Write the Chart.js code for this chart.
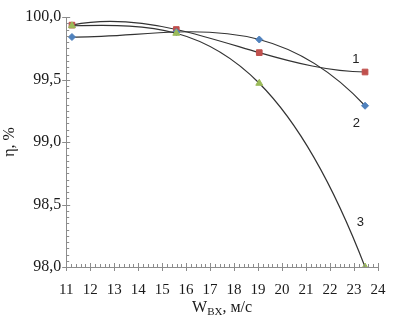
<!DOCTYPE html>
<html>
<head>
<meta charset="utf-8">
<script src="https://cdn.jsdelivr.net/npm/chart.js@4"></script>
<style>
  html, body { margin: 0; padding: 0; background: #fff; }
  #wrap { width: 401px; height: 320px; }
</style>
</head>
<body>
<div id="wrap"><canvas id="chart"></canvas></div>
<script>
"use strict";

// values
const speeds = [11.24, 15.59, 19.05, 23.46];
const eff1 = [99.935, 99.90, 99.715, 99.56];
const eff2 = [99.84, 99.88, 99.82, 99.29];
const eff3 = [99.93, 99.87, 99.47, 98.0];

const curveNames = ['1', '2', '3'];
const nameX = [23.08, 23.1, 23.26];
const nameY = [99.66, 99.15, 98.36];

const yTicks = [98.0, 98.5, 99.0, 99.5, 100.0];

const serif = "'Liberation Serif', 'DejaVu Serif', serif";
const axisColor = '#8c8c8c';

const toPoints = (ys) => speeds.map((x, i) => ({ x: x, y: ys[i] }));

// least squares polynomial (the original curves are 3rd order trendlines)
const polyFit = (xs, ys, deg) => {
    const n = deg + 1;
    const a = [];
    for (let r = 0; r < n; r++) {
        a.push([]);
        for (let c = 0; c < n; c++) a[r].push(xs.reduce((s, x) => s + Math.pow(x, r + c), 0));
        a[r].push(xs.reduce((s, x, i) => s + ys[i] * Math.pow(x, r), 0));
    }
    for (let i = 0; i < n; i++) {
        let p = i;
        for (let r = i + 1; r < n; r++) if (Math.abs(a[r][i]) > Math.abs(a[p][i])) p = r;
        [a[i], a[p]] = [a[p], a[i]];
        for (let r = 0; r < n; r++) {
            if (r === i) continue;
            const f = a[r][i] / a[i][i];
            for (let c = i; c <= n; c++) a[r][c] -= f * a[i][c];
        }
    }
    return a.map((row, i) => row[n] / row[i]);
};
const slopeAt = (coef, x) => coef.reduce((s, c, k) => k ? s + k * c * Math.pow(x, k - 1) : s, 0);

// put the bezier handles where the cubic trendline wants them
const trendCurves = {
    id: 'trendCurves',
    beforeDatasetsDraw(chart) {
        const xs = chart.scales.x, ys = chart.scales.y;
        chart.data.datasets.forEach((ds, di) => {
            const meta = chart.getDatasetMeta(di);
            const line = meta.dataset;
            line.updateControlPoints(chart.chartArea, 'x');
            const vx = ds.data.map(p => p.x), vy = ds.data.map(p => p.y);
            const coef = polyFit(vx, vy, 3);
            meta.data.forEach((pt, i) => {
                const m = slopeAt(coef, vx[i]);
                const hp = i > 0 ? (vx[i] - vx[i - 1]) / 3 : 0;
                const hn = i < vx.length - 1 ? (vx[i + 1] - vx[i]) / 3 : 0;
                pt.cp1x = xs.getPixelForValue(vx[i] - hp);
                pt.cp1y = ys.getPixelForValue(vy[i] - m * hp);
                pt.cp2x = xs.getPixelForValue(vx[i] + hn);
                pt.cp2y = ys.getPixelForValue(vy[i] + m * hn);
            });
        });
    }
};

// axis ticks: major ones cross the axis, minor ones point inside
const axisTicks = {
    id: 'axisTicks',
    afterDraw(chart) {
        const ctx = chart.ctx;
        const xs = chart.scales.x, ys = chart.scales.y;
        const x0 = xs.left, y0 = ys.bottom;
        ctx.save();
        ctx.strokeStyle = axisColor;
        ctx.lineWidth = 1;
        ctx.beginPath();
        for (let v = 11; v <= 24.001; v += 0.2) {
            const px = Math.round(xs.getPixelForValue(v)) + 0.5;
            const major = Math.abs(v - Math.round(v)) < 0.01;
            ctx.moveTo(px, y0 + (major ? 4 : 0));
            ctx.lineTo(px, y0 - (major ? 4 : 3));
        }
        for (let v = 98; v <= 100.001; v += 0.05) {
            const py = Math.round(ys.getPixelForValue(v)) + 0.5;
            const major = Math.abs(v * 2 - Math.round(v * 2)) < 0.01;
            ctx.moveTo(x0 - (major ? 4 : 0), py);
            ctx.lineTo(x0 + (major ? 4 : 3), py);
        }
        ctx.stroke();

        // curve numbers
        ctx.fillStyle = '#222';
        ctx.font = "13px 'Liberation Sans', sans-serif";
        ctx.textAlign = 'center';
        ctx.textBaseline = 'middle';
        curveNames.forEach((t, i) => {
            ctx.fillText(t, xs.getPixelForValue(nameX[i]), ys.getPixelForValue(nameY[i]));
        });

        // x axis title with subscript
        const cx = (chart.chartArea.left + chart.chartArea.right) / 2;
        const base = 312;
        const parts = [
            { t: 'W', f: '16px ' + serif, dy: 0 },
            { t: 'BX', f: '11px ' + serif, dy: 3 },
            { t: ', м/с', f: '16px ' + serif, dy: 0 }
        ];
        let total = 0;
        parts.forEach(p => { ctx.font = p.f; p.w = ctx.measureText(p.t).width; total += p.w; });
        let px = cx - total / 2;
        ctx.textAlign = 'left';
        ctx.textBaseline = 'alphabetic';
        ctx.fillStyle = '#1a1a1a';
        parts.forEach(p => {
            ctx.font = p.f;
            ctx.fillText(p.t, px, base + p.dy);
            px += p.w;
        });
        ctx.restore();
    }
};

const makeSet = (label, data, style, color, radius) => ({
    label: label,
    data: toPoints(data),
    borderColor: '#333',
    borderWidth: 1.2,
    tension: 0.4,
    capBezierPoints: false,
    pointStyle: style,
    pointRadius: radius,
    pointBackgroundColor: color,
    pointBorderColor: color,
    pointBorderWidth: 1,
    fill: false
});

document.addEventListener("DOMContentLoaded", () => {
    const ctx = document.getElementById('chart').getContext('2d');
    new Chart(ctx, {
        type: 'line',
        data: {
            datasets: [
                makeSet('3', eff3, 'triangle', '#9bbb59', 4),
                makeSet('2', eff2, 'rectRot', '#4f81bd', 3.5),
                makeSet('1', eff1, 'rect', '#c0504d', 4)
            ]
        },
        options: {
            responsive: true,
            maintainAspectRatio: false,
            animation: false,
            layout: { padding: { left: 0, right: 23, top: 17, bottom: 7 } },
            plugins: { legend: { display: false }, tooltip: { enabled: false } },
            scales: {
                x: {
                    type: 'linear',
                    min: 11,
                    max: 24,
                    grid: { display: false, drawTicks: false },
                    border: { display: true, color: axisColor },
                    ticks: {
                        stepSize: 1,
                        padding: 14,
                        color: '#1a1a1a',
                        font: { family: serif, size: 15 }
                    }
                },
                y: {
                    min: 98,
                    max: 100,
                    afterBuildTicks: (axis) => { axis.ticks = yTicks.map(v => ({ value: v })); },
                    grid: { display: false, drawTicks: false },
                    border: { display: true, color: axisColor },
                    ticks: {
                        padding: 5,
                        color: '#1a1a1a',
                        font: { family: serif, size: 16 },
                        callback: (v) => v.toFixed(1).replace('.', ',')
                    },
                    title: {
                        display: true,
                        text: 'η, %',
                        color: '#1a1a1a',
                        padding: { top: 0, bottom: 1 },
                        font: { family: serif, size: 16 }
                    }
                }
            }
        },
        plugins: [trendCurves, axisTicks]
    });
});
</script>
</body>
</html>
